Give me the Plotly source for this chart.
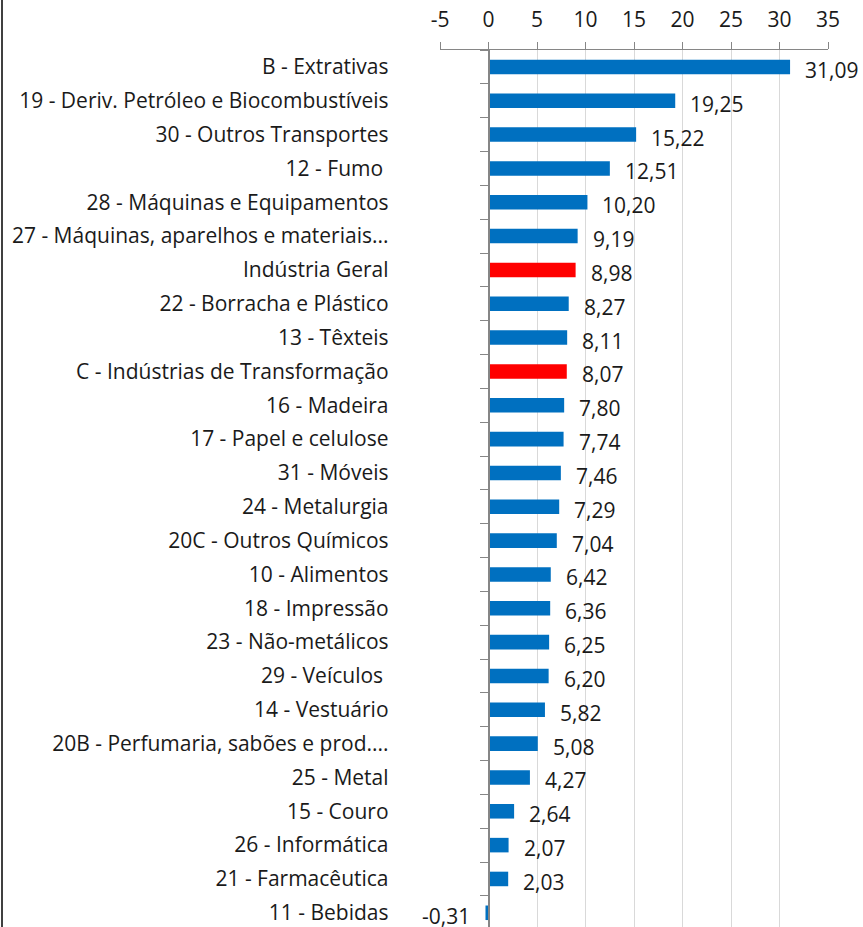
import plotly.graph_objects as go

categories = [
    "B - Extrativas",
    "19 - Deriv. Petróleo e Biocombustíveis",
    "30 - Outros Transportes",
    "12 - Fumo ",
    "28 - Máquinas e Equipamentos",
    "27 - Máquinas, aparelhos e materiais...",
    "Indústria Geral",
    "22 - Borracha e Plástico",
    "13 - Têxteis",
    "C - Indústrias de Transformação",
    "16 - Madeira",
    "17 - Papel e celulose",
    "31 - Móveis",
    "24 - Metalurgia",
    "20C - Outros Químicos",
    "10 - Alimentos",
    "18 - Impressão",
    "23 - Não-metálicos",
    "29 - Veículos ",
    "14 - Vestuário",
    "20B - Perfumaria, sabões e prod....",
    "25 - Metal",
    "15 - Couro",
    "26 - Informática",
    "21 - Farmacêutica",
    "11 - Bebidas",
]
values = [31.09, 19.25, 15.22, 12.51, 10.20, 9.19, 8.98, 8.27, 8.11, 8.07,
          7.80, 7.74, 7.46, 7.29, 7.04, 6.42, 6.36, 6.25, 6.20, 5.82,
          5.08, 4.27, 2.64, 2.07, 2.03, -0.31]
highlight = ["Indústria Geral", "C - Indústrias de Transformação"]
x_ticks = [-5, 0, 5, 10, 15, 20, 25, 30, 35]

BLUE = "#0070C0"
RED = "#FF0000"
colors = [RED if c in highlight else BLUE for c in categories]

W, H = 863, 927
FONT = "Open Sans"
FS = 21
TXT = "#1a1a1a"
AX = "#868686"

x0d, x1d = 440 / W, 828 / W
xmin, xmax = -5, 35
ypos = x0d + (x1d - x0d) * (0 - xmin) / (xmax - xmin)

fig = go.Figure()
fig.add_trace(go.Bar(
    x=values, y=categories, orientation="h",
    marker=dict(color=colors, line=dict(width=0)),
    width=0.43,
    hoverinfo="skip",
))

for c, v in zip(categories, values):
    fig.add_annotation(
        x=v, y=c, xref="x", yref="y",
        text=f"{v:.2f}".replace(".", ","),
        showarrow=False,
        xanchor="left" if v >= 0 else "right",
        xshift=13 if v >= 0 else -13,
        yshift=-3,
        font=dict(family=FONT, size=FS, color=TXT),
    )

fig.add_shape(type="line", xref="paper", yref="paper",
              x0=2 / W, x1=2 / W, y0=0, y1=1,
              line=dict(color="#404040", width=2))

fig.update_layout(
    width=W, height=H,
    margin=dict(l=0, r=0, t=0, b=0, autoexpand=False),
    paper_bgcolor="white", plot_bgcolor="white",
    showlegend=False,
    font=dict(family=FONT, size=FS, color=TXT),
    xaxis=dict(
        domain=[x0d, x1d], range=[xmin, xmax], side="top",
        tickmode="array", tickvals=x_ticks,
        ticktext=[str(t) for t in x_ticks],
        ticks="outside", ticklen=7, tickcolor=AX,
        showline=True, linecolor=AX, linewidth=1,
        showgrid=True, gridcolor="#D9D9D9", gridwidth=1,
        zeroline=False, anchor="y", automargin=False,
        ticklabelstandoff=7,
        tickfont=dict(family=FONT, size=FS, color=TXT),
    ),
    yaxis=dict(
        domain=[0, 1 - 50 / H],
        type="category", categoryorder="array", categoryarray=categories,
        range=[25.42, -0.5],
        anchor="free", position=ypos, automargin=False,
        ticks="outside", tickson="boundaries", ticklen=8, tickcolor=AX,
        showline=True, linecolor=AX, linewidth=1.5,
        showgrid=False, zeroline=False,
        ticklabelstandoff=95,
        tickfont=dict(family=FONT, size=FS, color=TXT),
    ),
)

fig.write_html("out.html", config={"displayModeBar": False},
               post_script="document.body.style.margin='0';")
